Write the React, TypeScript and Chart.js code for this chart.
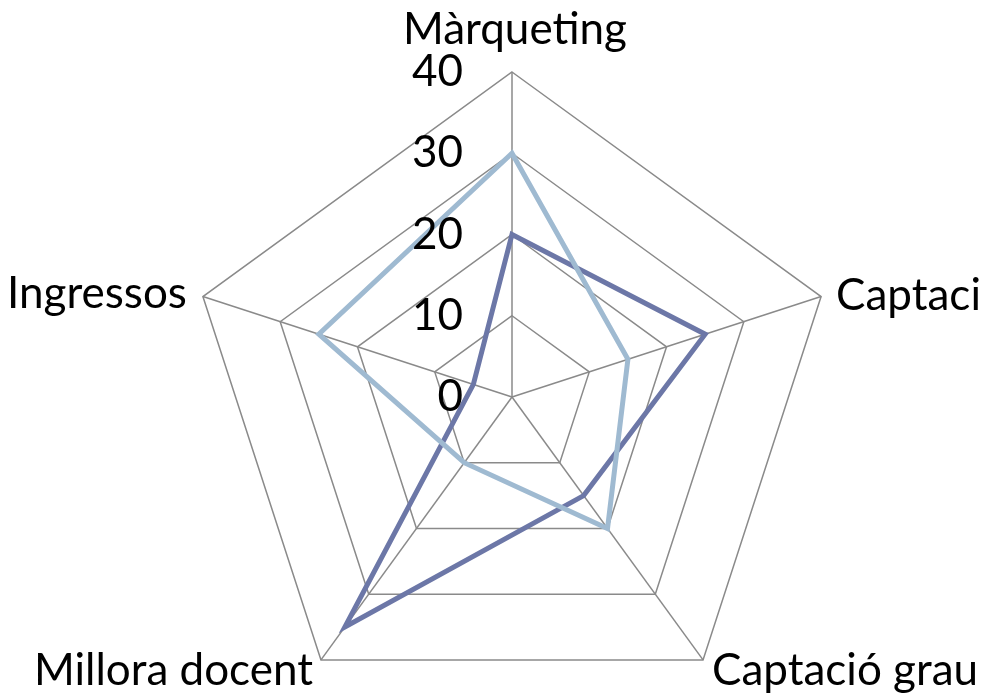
import React, { useEffect, useRef } from "react";
import { Chart, registerables } from "chart.js";

Chart.register(...registerables);

const categories = ["Màrqueting", "Captació postgrau", "Captació grau", "Millora docent", "Ingressos"];
const seriesDark = [20, 25, 15, 35, 5];
const seriesLight = [30, 15, 20, 10, 25];
const tickLabels = ["0", "10", "20", "30", "40"];

const FONT = "44px Lato, 'Open Sans', sans-serif";

const labelPlugin = {
  id: "customLabels",
  afterDatasetsDraw(chart: any) {
    const s = chart.scales.r;
    const ctx = chart.ctx;
    ctx.save();
    ctx.font = FONT;
    ctx.fillStyle = "#000000";
    // tick labels, left of the vertical axis
    ctx.textAlign = "right";
    ctx.textBaseline = "middle";
    s.ticks.forEach((t: any, i: number) => {
      const d = s.getDistanceFromCenterForValue(t.value);
      ctx.fillText(tickLabels[i] ?? String(t.value), s.xCenter - 49, s.yCenter - d);
    });
    // point labels
    ctx.textBaseline = "alphabetic";
    categories.forEach((c, i) => {
      const p = s.getPointPosition(i, s.drawingArea);
      let x = p.x;
      let y = p.y;
      if (i === 0) {
        ctx.textAlign = "center";
        x = p.x + 3;
        y = p.y - 28;
      } else if (i === 1) {
        ctx.textAlign = "left";
        x = p.x + 15;
        y = p.y + 13;
      } else if (i === 2) {
        ctx.textAlign = "left";
        x = p.x + 9;
        y = p.y + 25;
      } else if (i === 3) {
        ctx.textAlign = "right";
        x = p.x - 8;
        y = p.y + 25;
      } else {
        ctx.textAlign = "right";
        x = p.x - 16;
        y = p.y + 11;
      }
      ctx.fillText(c, x, y);
    });
    ctx.restore();
  },
};

export default function App() {
  const ref = useRef<HTMLCanvasElement | null>(null);

  useEffect(() => {
    if (!ref.current) return;
    const chart = new Chart(ref.current, {
      type: "radar",
      data: {
        labels: categories,
        datasets: [
          {
            label: "Sèrie 1",
            data: seriesDark,
            borderColor: "#6c77a7",
            backgroundColor: "transparent",
            borderWidth: 5,
            pointRadius: 0,
            fill: false,
            order: 2,
          },
          {
            label: "Sèrie 2",
            data: seriesLight,
            borderColor: "#9fbad1",
            backgroundColor: "transparent",
            borderWidth: 5,
            pointRadius: 0,
            fill: false,
            order: 1,
          },
        ],
      },
      options: {
        animation: false,
        responsive: true,
        maintainAspectRatio: false,
        layout: { padding: { left: 187, right: 145, top: 72, bottom: 78 } },
        plugins: { legend: { display: false }, tooltip: { enabled: false } },
        elements: { line: { tension: 0, borderJoinStyle: "miter" } },
        scales: {
          r: {
            min: 0,
            max: 40,
            ticks: { stepSize: 10, display: false },
            grid: { color: "#8a8a8a", lineWidth: 1.5, circular: false },
            angleLines: { display: true, color: "#8a8a8a", lineWidth: 1.5 },
            pointLabels: { display: false },
          },
        },
      },
      plugins: [labelPlugin],
    });
    return () => chart.destroy();
  }, []);

  return (
    <div style={{ position: "absolute", left: 0, top: 0, width: 982, height: 697, overflow: "hidden", background: "#fff" }}>
      <div style={{ position: "relative", width: 982, height: 800 }}>
        <canvas ref={ref} />
      </div>
    </div>
  );
}
